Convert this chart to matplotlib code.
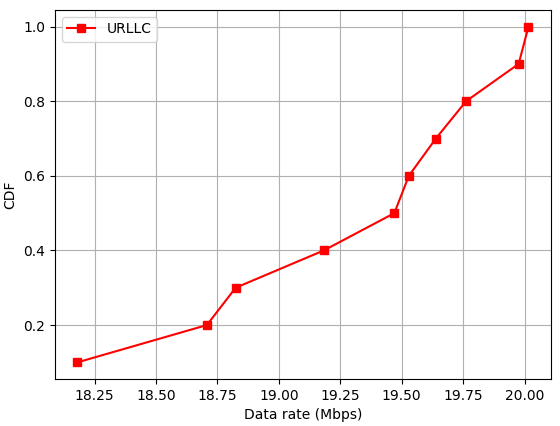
import matplotlib
matplotlib.use('Agg')
import matplotlib.pyplot as plt

data_rate = [18.18, 18.707, 18.824, 19.183, 19.47, 19.529, 19.639, 19.762, 19.976, 20.016]
cdf = [0.1, 0.2, 0.3, 0.4, 0.5, 0.6, 0.7, 0.8, 0.9, 1.0]

fig = plt.figure(figsize=(5.6, 4.26), dpi=100)
ax = fig.add_subplot(111)
fig.subplots_adjust(left=0.098, right=0.984, top=0.977, bottom=0.110)

ax.plot(data_rate, cdf, color='red', marker='s', label='URLLC')
ax.set_xlabel('Data rate (Mbps)')
ax.set_ylabel('CDF')
ax.grid(True)
ax.legend(loc='upper left')

fig.savefig('out.png', dpi=100)
